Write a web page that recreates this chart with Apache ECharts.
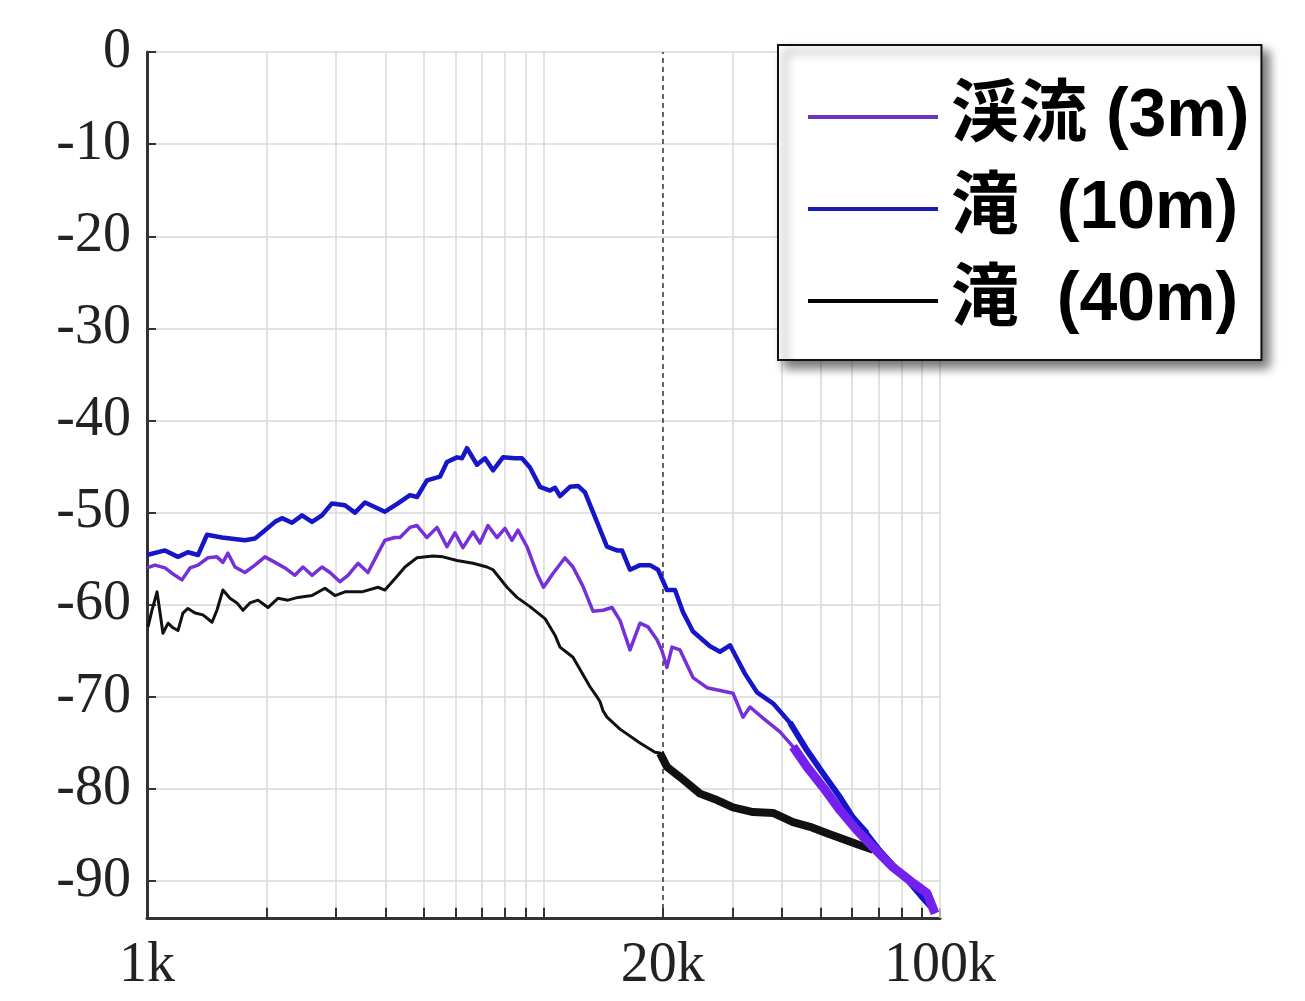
<!DOCTYPE html>
<html>
<head>
<meta charset="utf-8">
<script src="https://cdn.jsdelivr.net/npm/echarts@6/dist/echarts.min.js"></script>
<style>
  html, body { margin: 0; padding: 0; background: #fff; }
  #chart { width: 1305px; height: 1001px; }
</style>
</head>
<body>
<div id="chart"></div>
<script>
// Spectrum levels (dB) against frequency (Hz) for three recording spots.
const freq3m = [1000, 1047, 1110, 1176, 1225, 1284, 1345, 1425, 1501, 1554, 1600, 1667, 1766, 1872, 1984, 2103, 2228, 2361, 2474, 2607, 2762, 2894, 3067, 3213, 3405, 3608, 3824, 3982, 4221, 4345, 4605, 4796, 5083, 5387, 5709, 5980, 6264, 6638, 6915, 7244, 7632, 7995, 8328, 8622, 9085, 9628, 10000, 10566, 11328, 11867, 12578, 13328, 14125, 14885, 15593, 16525, 17513, 18345, 19330, 19900, 20485, 21090, 22092, 23825, 25842, 27870, 30056, 31853, 33174, 35777, 39488, 42586, 46190, 50700, 55950, 61760, 67770, 76120, 85490, 92730, 97150];
const level3m = [-56.0, -55.7, -56.0, -56.8, -57.3, -56.0, -55.7, -54.9, -54.8, -55.4, -54.4, -55.9, -56.5, -55.7, -54.8, -55.4, -56.0, -56.8, -55.9, -56.8, -55.9, -56.5, -57.5, -56.8, -55.5, -56.5, -54.4, -53.0, -52.7, -52.7, -51.6, -51.4, -52.7, -51.6, -53.7, -52.2, -53.8, -52.1, -53.3, -51.4, -52.7, -51.7, -53.0, -51.9, -53.7, -56.6, -58.1, -56.6, -54.9, -55.9, -58.0, -60.7, -60.6, -60.3, -61.7, -64.9, -62.0, -62.4, -63.8, -65.0, -66.8, -64.6, -64.9, -67.9, -69.0, -69.3, -69.6, -72.2, -71.1, -72.3, -73.8, -75.4, -77.6, -79.8, -82.3, -84.5, -86.3, -88.5, -90.2, -91.3, -93.5];

const freq10m = [1000, 1110, 1197, 1268, 1345, 1417, 1545, 1766, 1872, 1961, 2103, 2190, 2321, 2460, 2607, 2762, 2928, 3157, 3346, 3546, 3982, 4295, 4605, 4796, 5083, 5482, 5709, 6050, 6229, 6412, 6795, 7118, 7458, 7903, 8474, 8825, 9245, 9798, 10384, 10690, 11005, 11663, 12218, 12725, 13643, 14458, 15323, 15775, 16525, 17513, 18560, 19443, 20485, 21460, 22480, 23825, 26300, 27870, 29540, 32230, 34550, 37920, 41850, 46190, 50700, 55950, 60340, 65450, 70580, 79270, 89040, 97150];
const level10m = [-54.6, -54.1, -54.8, -54.3, -54.6, -52.4, -52.7, -53.0, -52.8, -52.1, -51.0, -50.6, -51.1, -50.3, -51.0, -50.3, -49.0, -49.2, -50.0, -48.9, -49.9, -49.0, -48.1, -48.3, -46.5, -46.1, -44.5, -44.0, -44.1, -43.0, -44.8, -44.1, -45.4, -44.0, -44.1, -44.1, -45.1, -47.2, -47.6, -47.3, -48.2, -47.2, -47.1, -47.8, -51.0, -53.7, -54.1, -54.1, -56.2, -55.7, -55.7, -56.2, -58.4, -58.4, -60.8, -62.9, -64.5, -65.1, -64.4, -67.5, -69.5, -70.7, -72.8, -75.8, -78.3, -80.9, -83.1, -84.8, -86.6, -89.0, -91.6, -93.4];

const freq40m = [1006, 1029, 1060, 1079, 1097, 1130, 1163, 1197, 1232, 1268, 1322, 1384, 1459, 1501, 1554, 1619, 1686, 1746, 1818, 1905, 2019, 2139, 2267, 2403, 2607, 2811, 2979, 3157, 3485, 3824, 3982, 4295, 4473, 4796, 5263, 5577, 6050, 6638, 7202, 7458, 8089, 8572, 9245, 10086, 10690, 11005, 11867, 13100, 13643, 13883, 14128, 14458, 15593, 17513, 19107, 19670, 20485, 22092, 24813, 27387, 30056, 33757, 37920, 42586, 47004, 51880, 58270, 62842, 67770, 76120, 85490, 97150];
const level40m = [-62.4, -60.6, -58.6, -60.9, -63.1, -62.0, -62.5, -62.8, -60.9, -60.4, -60.9, -61.1, -61.9, -60.6, -58.4, -59.3, -59.8, -60.6, -59.8, -59.5, -60.3, -59.3, -59.5, -59.2, -59.0, -58.2, -59.0, -58.6, -58.6, -58.1, -58.4, -56.8, -55.9, -54.9, -54.7, -54.8, -55.2, -55.5, -55.9, -56.2, -58.1, -59.2, -60.2, -61.5, -63.3, -64.6, -65.7, -68.9, -70.0, -70.5, -71.5, -72.2, -73.5, -75.0, -76.0, -76.1, -77.6, -78.7, -80.5, -81.2, -82.0, -82.5, -82.6, -83.6, -84.1, -84.8, -85.6, -86.1, -86.6, -88.7, -90.4, -93.4];

const seriesNames = ['渓流 (3m)', '滝  (10m)', '滝  (40m)'];
const yTicks = [0, -10, -20, -30, -40, -50, -60, -70, -80, -90];
const xTickLabels = { 1000: '1k', 20000: '20k', 100000: '100k' };
const minorFreqs = [2000, 3000, 4000, 5000, 6000, 7000, 8000, 9000, 10000,
                    30000, 40000, 50000, 60000, 70000, 80000, 90000, 100000];

const Y_MIN = -94, Y_MAX = 0;
const pts = (f, l) => f.map((x, i) => [x, l[i]]);
const band = (f, l, lo, hi) => pts(f, l).filter(p => p[0] >= lo && p[0] <= hi);

const serifFont = "'Liberation Serif', 'DejaVu Serif', serif";
const legendFont = "'Liberation Sans', 'Noto Sans CJK JP', sans-serif";
const LABEL_SIZE = 56;

// light log-paper grid, minor ticks on the frequency axis, dashed 20 kHz marker
const gridLines = minorFreqs.map(f => [
  { coord: [f, Y_MIN] }, { coord: [f, Y_MAX] }
]);
const tickMarks = minorFreqs.filter(f => f < 100000).concat([20000]).map(f => [
  { coord: [f, Y_MIN], lineStyle: { color: '#333', width: 2, type: 'solid' } },
  { coord: [f, Y_MIN + 1.1] }
]);
const line20k = [
  { coord: [20000, Y_MIN],
    lineStyle: { color: '#333', width: 1.5, type: [5, 4] },
    label: { show: true, position: 'start', formatter: '20k', distance: 20,
             fontFamily: serifFont, fontSize: LABEL_SIZE, color: '#222' } },
  { coord: [20000, Y_MAX] }
];

const COLORS = { m3: '#7530d8', m3band: '#7420ee', m10: '#1616c8', m40: '#111111' };
const KEY_COLORS = ['#6a34c0', '#1a1ab0', '#000000'];

// main trace of one spot (listed in the key)
function curve(name, data, color, width, z) {
  return {
    name, type: 'line', data, z,
    showSymbol: false, symbol: 'none', smooth: false,
    color, itemStyle: { color },
    lineStyle: { color, width, type: 'solid', join: 'round' },
    emphasis: { disabled: true },
    animation: false
  };
}
// broad noisy stretch of the same trace, drawn wider
function noiseBand(id, data, color, width, z) {
  return {
    id, type: 'line', data, z,
    showSymbol: false, symbol: 'none', smooth: false,
    color, itemStyle: { color },
    lineStyle: { color, width, type: 'solid', join: 'round' },
    emphasis: { disabled: true },
    animation: false
  };
}

const chart = echarts.init(document.getElementById('chart'), null, { renderer: 'canvas' });
chart.setOption({
  backgroundColor: '#ffffff',
  animation: false,
  grid: { left: 147, right: 365, top: 52, bottom: 83, outerBoundsMode: 'none' },
  xAxis: {
    type: 'log', logBase: 10, min: 1000, max: 100000,
    axisLine: { show: true, onZero: false, lineStyle: { color: '#333', width: 3 } },
    axisTick: { show: true, inside: true, length: 10, lineStyle: { color: '#333', width: 2 } },
    axisLabel: {
      margin: 20, fontFamily: serifFont, fontSize: LABEL_SIZE, color: '#222',
      formatter: v => xTickLabels[Math.round(v)] || ''
    },
    splitLine: { show: false }
  },
  yAxis: {
    type: 'value', min: Y_MIN, max: Y_MAX,
    axisLine: { show: true, lineStyle: { color: '#333', width: 3 } },
    axisTick: { show: true, inside: true, length: 9, customValues: yTicks,
                lineStyle: { color: '#333', width: 2 } },
    axisLabel: { customValues: yTicks, margin: 16, fontFamily: serifFont, fontSize: LABEL_SIZE, color: '#222' },
    splitLine: { show: true, lineStyle: { color: '#d9d9d9', width: 1.5 } }
  },
  legend: {
    z: 20,
    data: seriesNames.map((name, i) => ({
      name, icon: 'rect',
      itemStyle: { color: KEY_COLORS[i], borderWidth: 0 }
    })),
    orient: 'vertical',
    left: 778, top: 45,
    padding: [34, 12, 21, 30],
    itemGap: 16,
    itemWidth: 130, itemHeight: 4,
    selectedMode: false,
    backgroundColor: '#ffffff',
    borderColor: '#111', borderWidth: 2,
    shadowColor: 'rgba(0,0,0,0.55)', shadowBlur: 10, shadowOffsetX: 7, shadowOffsetY: 7,
    textStyle: { fontFamily: legendFont, fontSize: 68, fontWeight: 'bold', color: '#000',
                 lineHeight: 76, padding: [0, 0, 0, 8] }
  },
  series: [
    {
      id: 'paper', type: 'line', data: [], z: 1, silent: true,
      markLine: {
        z: 1,
        silent: true, animation: false, symbol: ['none', 'none'],
        label: { show: false },
        lineStyle: { color: '#d9d9d9', width: 1.5, type: 'solid' },
        emphasis: { disabled: true },
        data: gridLines.concat(tickMarks, [line20k])
      }
    },
    curve(seriesNames[2], pts(freq40m, level40m), COLORS.m40, 3, 3),
    noiseBand('band40m', band(freq40m, level40m, 19500, 70000), COLORS.m40, 8, 3),
    curve(seriesNames[1], pts(freq10m, level10m), COLORS.m10, 4.5, 4),
    noiseBand('band10m', band(freq10m, level10m, 38000, 70000), COLORS.m10, 6, 4),
    curve(seriesNames[0], pts(freq3m, level3m), COLORS.m3, 3.5, 5),
    noiseBand('band3m', band(freq3m, level3m, 42000, 100000), COLORS.m3band, 9, 5)
  ]
});
</script>
</body>
</html>
